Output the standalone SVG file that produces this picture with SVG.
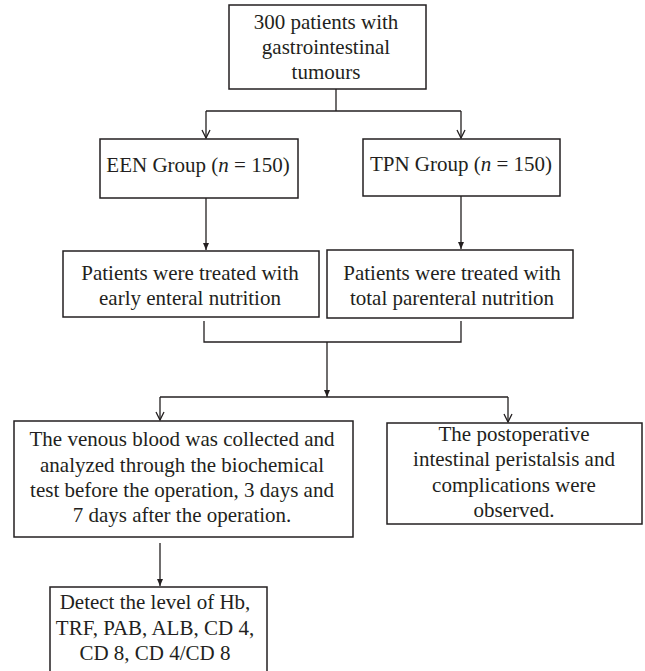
<svg xmlns="http://www.w3.org/2000/svg" width="645" height="671" viewBox="0 0 645 671">
  <style>
    .box { fill: #ffffff; stroke: #231f20; stroke-width: 1.5; }
    .t { font-family: "Liberation Serif", "Times New Roman", serif; font-size: 21px; fill: #231f20; text-anchor: middle; }
    .ln { fill: none; stroke: #231f20; stroke-width: 1.3; }
    .it { font-style: italic; }
  </style>
  <defs>
    <marker id="open" markerUnits="userSpaceOnUse" markerWidth="12" markerHeight="12" viewBox="-10 -6 12 12" refX="0" refY="0" orient="auto">
      <path d="M-8,-4 L0,0 L-8,4" fill="none" stroke="#231f20" stroke-width="1.3"/>
    </marker>
    <marker id="fill" markerUnits="userSpaceOnUse" markerWidth="12" markerHeight="12" viewBox="-10 -6 12 12" refX="0" refY="0" orient="auto">
      <path d="M-7,-3 L0,0 L-7,3 Z" fill="#231f20" stroke="none"/>
    </marker>
  </defs>

  <g id="connectors">
    <path class="ln" d="M336,89 V111"/>
    <path class="ln" d="M206,111 H461"/>
    <path class="ln" d="M206,111 V138" marker-end="url(#open)"/>
    <path class="ln" d="M461,111 V138" marker-end="url(#open)"/>
    <path class="ln" d="M206,198 V250" marker-end="url(#fill)"/>
    <path class="ln" d="M461,196 V249" marker-end="url(#fill)"/>
    <path class="ln" d="M204,321 V342 H461 V321"/>
    <path class="ln" d="M327,342 V397" marker-end="url(#fill)"/>
    <path class="ln" d="M160,397 H508"/>
    <path class="ln" d="M160,397 V420" marker-end="url(#open)"/>
    <path class="ln" d="M508,397 V422" marker-end="url(#open)"/>
    <path class="ln" d="M160,543 V586" marker-end="url(#fill)"/>
  </g>

  <g id="node-start">
    <rect class="box" x="229" y="5" width="197" height="84"/>
    <text class="t" x="326" y="29">300 patients with</text>
    <text class="t" x="326" y="54">gastrointestinal</text>
    <text class="t" x="326" y="79">tumours</text>
  </g>

  <g id="node-een">
    <rect class="box" x="100" y="139" width="198" height="59"/>
    <text class="t" x="198" y="172">EEN Group (<tspan class="it">n</tspan> = 150)</text>
  </g>

  <g id="node-tpn">
    <rect class="box" x="363" y="139" width="197" height="57"/>
    <text class="t" x="461" y="171">TPN Group (<tspan class="it">n</tspan> = 150)</text>
  </g>

  <g id="node-een-treat">
    <rect class="box" x="63" y="251" width="256" height="66"/>
    <text class="t" x="190" y="280">Patients were treated with</text>
    <text class="t" x="190" y="305">early enteral nutrition</text>
  </g>

  <g id="node-tpn-treat">
    <rect class="box" x="327" y="250" width="246" height="68"/>
    <text class="t" x="452" y="280">Patients were treated with</text>
    <text class="t" x="452" y="305">total parenteral nutrition</text>
  </g>

  <g id="node-blood">
    <rect class="box" x="14" y="421" width="339" height="116"/>
    <text class="t" x="182" y="446">The venous blood was collected and</text>
    <text class="t" x="182" y="471.5">analyzed through the biochemical</text>
    <text class="t" x="182" y="497">test before the operation, 3 days and</text>
    <text class="t" x="182" y="522">7 days after the operation.</text>
  </g>

  <g id="node-observe">
    <rect class="box" x="387" y="423" width="255" height="101"/>
    <text class="t" x="514" y="441">The postoperative</text>
    <text class="t" x="514" y="466">intestinal peristalsis and</text>
    <text class="t" x="514" y="492">complications were</text>
    <text class="t" x="514" y="517">observed.</text>
  </g>

  <g id="node-detect">
    <rect class="box" x="50" y="587" width="217" height="100"/>
    <text class="t" x="155" y="609">Detect the level of Hb,</text>
    <text class="t" x="155" y="634.5">TRF, PAB, ALB, CD 4,</text>
    <text class="t" x="155" y="660">CD 8, CD 4/CD 8</text>
  </g>
</svg>
